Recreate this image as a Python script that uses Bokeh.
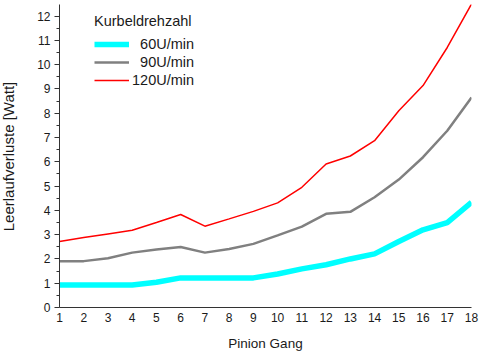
import math
from bokeh.plotting import figure
from bokeh.models import Range1d, FixedTicker, Legend, LegendItem, Label
from bokeh.embed import file_html
from bokeh.resources import INLINE

gears = list(range(1, 19))
rpm60 = [0.93, 0.93, 0.93, 0.93, 1.04, 1.22, 1.22, 1.22, 1.22, 1.38, 1.59, 1.76, 2.0, 2.21, 2.72, 3.2, 3.5, 4.33]
rpm90 = [1.91, 1.91, 2.03, 2.26, 2.39, 2.49, 2.26, 2.41, 2.62, 2.97, 3.33, 3.86, 3.94, 4.54, 5.27, 6.19, 7.28, 8.65]
rpm120 = [2.72, 2.88, 3.03, 3.18, 3.5, 3.83, 3.35, 3.65, 3.96, 4.31, 4.95, 5.91, 6.24, 6.87, 8.1, 9.14, 10.71, 12.5]
series_labels = ["\u200760U/min", "\u200790U/min", "120U/min"]
legend_title = "Kurbeldrehzahl"
x_label = "Pinion Gang"
y_label = "Leerlaufverluste [Watt]"
y_ticks = list(range(0, 13))

FONT = "Liberation Sans"
TXT = "#1a1a1a"

p = figure(width=480, height=355, frame_width=412, frame_height=303,
           output_backend="svg", toolbar_location=None,
           x_range=Range1d(1, 18), y_range=Range1d(0, 12.48),
           min_border_left=59, min_border_right=9, min_border_top=4, min_border_bottom=48)
p.outline_line_color = None
p.xgrid.visible = False
p.ygrid.visible = False
p.background_fill_color = "white"
p.border_fill_color = "white"

r60 = p.line(gears, rpm60, line_color="#00FFFF", line_width=5.5)
r90 = p.line(gears, rpm90, line_color="#808080", line_width=2.5)
r120 = p.line(gears, rpm120, line_color="#FF0000", line_width=1.5)

xa = p.xaxis[0]
xa.ticker = FixedTicker(ticks=gears)
xa.major_tick_in = 0
xa.major_tick_out = 0
xa.minor_tick_in = 0
xa.minor_tick_out = 0
xa.axis_line_color = "#333333"
xa.major_label_text_font = FONT
xa.major_label_text_font_size = "12px"
xa.major_label_text_color = TXT
xa.major_label_standoff = 5
xa.axis_label = x_label
xa.axis_label_text_font = FONT
xa.axis_label_text_font_size = "13.5px"
xa.axis_label_text_font_style = "normal"
xa.axis_label_text_color = TXT
xa.axis_label_standoff = 11

ya = p.yaxis[0]
ya.ticker = FixedTicker(ticks=y_ticks, minor_ticks=[v + 0.5 for v in y_ticks[:-1]])
ya.major_tick_in = 0
ya.major_tick_out = 5
ya.minor_tick_in = 0
ya.minor_tick_out = 3
ya.axis_line_color = "#333333"
ya.major_tick_line_color = "#333333"
ya.minor_tick_line_color = "#333333"
ya.major_label_text_font = FONT
ya.major_label_text_font_size = "12px"
ya.major_label_text_color = TXT
ya.major_label_standoff = 4

ylab = Label(x=-9, y=151, x_units="screen", y_units="screen", text=y_label,
             angle=math.pi / 2, text_align="center", text_baseline="middle",
             text_font=FONT, text_font_size="15px", text_color=TXT)
p.add_layout(ylab, "left")

legend = Legend(items=[LegendItem(label=series_labels[0], renderers=[r60]),
                       LegendItem(label=series_labels[1], renderers=[r90]),
                       LegendItem(label=series_labels[2], renderers=[r120])],
                location=(35, 218))
legend.title = legend_title
legend.title_text_font = FONT
legend.title_text_font_size = "14.5px"
legend.title_text_font_style = "normal"
legend.title_text_color = TXT
legend.title_standoff = 6
legend.label_text_font = FONT
legend.label_text_font_size = "14.5px"
legend.label_text_color = TXT
legend.label_standoff = 3
legend.glyph_width = 35
legend.glyph_height = 18
legend.label_height = 18
legend.spacing = 0
legend.padding = 0
legend.margin = 0
legend.border_line_color = None
legend.background_fill_alpha = 0
p.add_layout(legend, "center")

open("out.html", "w").write(file_html(p, INLINE))
